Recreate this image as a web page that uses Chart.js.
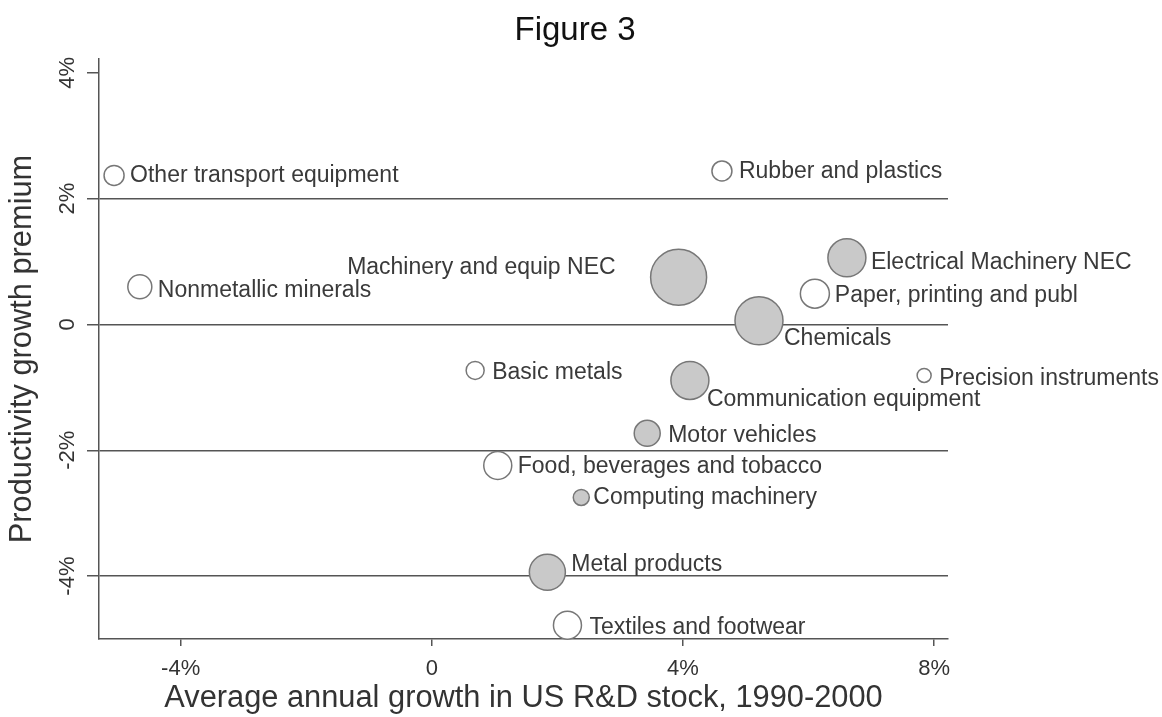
<!DOCTYPE html>
<html><head><meta charset="utf-8">
<script src="https://cdn.jsdelivr.net/npm/chart.js@4/dist/chart.umd.min.js"></script>
<style>html,body{margin:0;padding:0;background:#fff;overflow:hidden}#wrap{width:1162px;height:717px}</style>
</head><body><div id="wrap"><canvas id="c" width="1162" height="717"></canvas></div>
<script>
const industries = [
  'Other transport equipment', 'Nonmetallic minerals', 'Rubber and plastics',
  'Machinery and equip NEC', 'Electrical Machinery NEC', 'Paper, printing and publ',
  'Chemicals', 'Basic metals', 'Communication equipment', 'Precision instruments',
  'Motor vehicles', 'Food, beverages and tobacco', 'Computing machinery',
  'Metal products', 'Textiles and footwear'
];
const rdGrowth = [-5.06, -4.65, 4.62, 3.93, 6.61, 6.10, 5.21, 0.69, 4.11, 7.84, 3.43, 1.05, 2.38, 1.84, 2.16];
const premium  = [2.37, 0.60, 2.44, 0.75, 1.06, 0.49, 0.06, -0.73, -0.89, -0.81, -1.73, -2.24, -2.75, -3.94, -4.78];
const bubbleSize = [10, 12, 10, 28, 19, 14.5, 24, 9, 19, 7, 13, 14, 8, 18, 14];
const shaded = [false, false, false, true, true, false, true, false, true, false, true, false, true, true, false];
const xTicks = [-4, 0, 4, 8];
const yTicks = [-4, -2, 0, 2, 4];
const chartTitle = 'Figure 3';

// label placement relative to bubble centre (style only)
const labelPlacement = [
  {dx: 16, dy: 0}, {dx: 18, dy: 4}, {dx: 17, dy: 1}, {dx: -63, dy: -10, align: 'right'},
  {dx: 24, dy: 5}, {dx: 20, dy: 2}, {dx: 25, dy: 18}, {dx: 17, dy: 2},
  {dx: 17, dy: 19}, {dx: 15, dy: 3}, {dx: 21, dy: 2}, {dx: 20, dy: 1},
  {dx: 12, dy: 0}, {dx: 24, dy: -8}, {dx: 22, dy: 2}
];

const FONT = '"Liberation Sans", Arial, Helvetica, sans-serif';
const fmtPct = v => v === 0 ? '0' : v + '%';

const labelPlugin = {
  id: 'bubbleLabels',
  afterDatasetsDraw(chart) {
    const ctx = chart.ctx;
    const meta = chart.getDatasetMeta(0);
    ctx.save();
    ctx.font = '23px ' + FONT;
    ctx.fillStyle = '#3a3a3a';
    ctx.textBaseline = 'middle';
    meta.data.forEach((el, i) => {
      const p = labelPlacement[i];
      ctx.textAlign = p.align || 'left';
      ctx.fillText(industries[i], el.x + p.dx, el.y + p.dy);
    });
    // figure title
    ctx.font = '33px ' + FONT;
    ctx.fillStyle = '#111';
    ctx.textAlign = 'center';
    ctx.fillText(chartTitle, 575, 31);
    ctx.restore();
  }
};

const points = rdGrowth.map((x, i) => ({x: x, y: premium[i], r: bubbleSize[i]}));

new Chart(document.getElementById('c'), {
  type: 'bubble',
  data: {
    datasets: [{
      data: points,
      backgroundColor: c => shaded[c.dataIndex] ? '#c9c9c9' : '#ffffff',
      borderColor: '#777777',
      borderWidth: 1.5,
      clip: false
    }]
  },
  options: {
    responsive: false,
    animation: false,
    events: [],
    layout: {padding: {left: 0, right: 214, top: 59, bottom: 0}},
    plugins: {
      legend: {display: false},
      tooltip: {enabled: false},
      title: {display: false}
    },
    scales: {
      x: {
        type: 'linear', min: -5.3, max: 8.22,
        afterBuildTicks: s => { s.ticks = xTicks.map(v => ({value: v})); },
        afterFit: s => { s.height = 78; },
        grid: {drawOnChartArea: false, drawTicks: true, tickLength: 7, color: '#555', tickColor: '#555', lineWidth: 1.5},
        border: {display: true, color: '#555', width: 1.5},
        ticks: {callback: fmtPct, color: '#333', font: {family: FONT, size: 22}, padding: 10, maxRotation: 0, minRotation: 0},
        title: {display: true, text: 'Average annual growth in US R&D stock, 1990-2000', color: '#333',
                font: {family: FONT, size: 30.8}, padding: {top: 0, bottom: 0}}
      },
      y: {
        type: 'linear', min: -5, max: 4.22,
        afterBuildTicks: s => { s.ticks = yTicks.map(v => ({value: v})); },
        afterFit: s => { s.width = 99; },
        grid: {
          drawOnChartArea: true, drawTicks: true, tickLength: 12,
          color: c => (c.tick && c.tick.value === 4) ? 'rgba(0,0,0,0)' : '#555',
          tickColor: '#555', lineWidth: 1.5
        },
        border: {display: true, color: '#555', width: 1.5},
        ticks: {callback: fmtPct, color: '#333', font: {family: FONT, size: 22}, padding: 0,
                minRotation: 90, maxRotation: 90, crossAlign: 'center'},
        title: {display: true, text: 'Productivity growth premium', color: '#333',
                font: {family: FONT, size: 30.8}, padding: {top: 4, bottom: 0}}
      }
    }
  },
  plugins: [labelPlugin]
});
</script></body></html>
